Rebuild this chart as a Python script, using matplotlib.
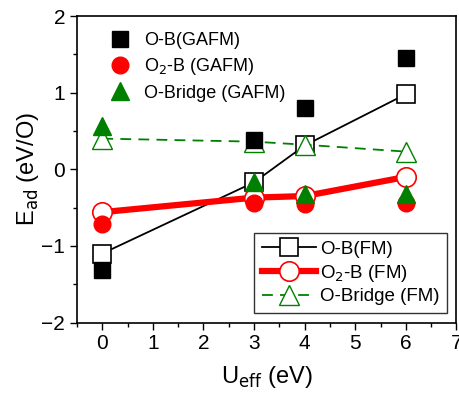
import matplotlib.pyplot as plt
from matplotlib.ticker import MultipleLocator

plt.rcParams["font.family"] = ["Liberation Sans", "DejaVu Sans"]

u_eff = [0, 3, 4, 6]

ob_fm = [-1.10, -0.17, 0.31, 0.98]
o2b_fm = [-0.56, -0.37, -0.35, -0.10]
obridge_fm = [0.40, 0.36, 0.32, 0.23]

ob_gafm = [-1.31, 0.38, 0.80, 1.45]
o2b_gafm = [-0.72, -0.44, -0.46, -0.44]
obridge_gafm = [0.57, -0.17, -0.32, -0.32]

fig = plt.figure(figsize=(4.6, 3.98), dpi=100)
ax = fig.add_axes([77 / 460, 1 - 322.5 / 398, 379.5 / 460, 306.5 / 398])

# FM configurations: lines with open markers
l1, = ax.plot(u_eff, ob_fm, color="black", lw=1.3, marker="s", ms=13,
              mfc="white", mec="black", mew=1.2, zorder=3,
              label="O-B(FM)")
l2, = ax.plot(u_eff, o2b_fm, color="red", lw=4.5, marker="o", ms=14,
              mfc="white", mec="red", mew=1.2, zorder=3,
              label="O$_2$-B (FM)")
l3, = ax.plot(u_eff, obridge_fm, color="green", lw=1.3, ls=(0, (6, 4)),
              marker="^", ms=15, mfc="white", mec="green", mew=1.0,
              zorder=3, label="O-Bridge (FM)")

# GAFM configurations: filled markers only
s1, = ax.plot(u_eff, ob_gafm, ls="none", marker="s", ms=11,
              color="black", zorder=4, label="O-B(GAFM)")
s2, = ax.plot(u_eff, o2b_gafm, ls="none", marker="o", ms=12,
              color="red", zorder=4, label="O$_2$-B (GAFM)")
s3, = ax.plot(u_eff, obridge_gafm, ls="none", marker="^", ms=13,
              color="green", zorder=4, label="O-Bridge (GAFM)")

ax.set_xlim(-0.5, 7)
ax.set_ylim(-2, 2)
ax.set_xticks(range(0, 8))
ax.set_yticks([-2, -1, 0, 1, 2])
ax.xaxis.set_minor_locator(MultipleLocator(0.5))
ax.yaxis.set_minor_locator(MultipleLocator(0.5))
ax.tick_params(which="both", direction="out", top=False, right=False,
               labelsize=15, width=1.0)
ax.tick_params(which="major", length=5)
ax.tick_params(which="minor", length=3)
for sp in ax.spines.values():
    sp.set_linewidth(1.2)

ax.set_xlabel("U$_{\\rm eff}$ (eV)", fontsize=17, labelpad=8)
ax.set_ylabel("E$_{\\rm ad}$ (eV/O)", fontsize=17, labelpad=0)

leg1 = ax.legend(handles=[s1, s2, s3], loc="upper left",
                 bbox_to_anchor=(0.035, 1.0), frameon=False, fontsize=13,
                 handletextpad=0.6, labelspacing=0.4, handlelength=1.5)
ax.add_artist(leg1)

leg2 = ax.legend(handles=[l1, l2, l3], loc="lower right",
                 bbox_to_anchor=(0.99, 0.013), frameon=True, fancybox=False,
                 edgecolor="black", fontsize=13.5, handlelength=2.9,
                 handletextpad=0.2, labelspacing=0.25, borderpad=0.4,
                 borderaxespad=0.3)
leg2.get_frame().set_linewidth(1.0)

fig.savefig("out.png", dpi=100)
